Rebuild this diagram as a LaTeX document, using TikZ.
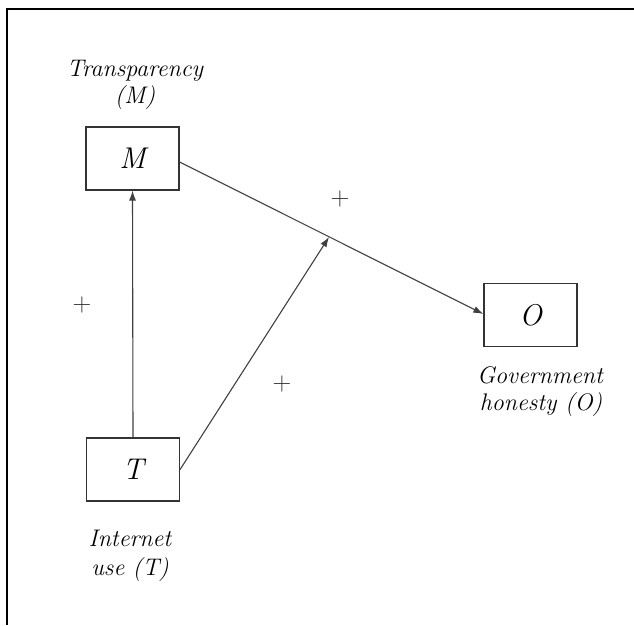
\documentclass[tikz,border=0pt]{standalone}
\usetikzlibrary{arrows.meta}
\begin{document}
\begin{tikzpicture}[x=1pt,y=-1pt,
  var/.style={draw=black!80,line width=1.2pt,minimum width=93pt,minimum height=63pt,inner sep=0pt,font=\fontsize{30}{32}\selectfont\itshape},
  lbl/.style={anchor=base,font=\fontsize{24}{28}\selectfont\itshape,inner sep=0pt},
  sgn/.style={inner sep=0pt,font=\fontsize{26}{28}\selectfont,text=black!80},
  conn/.style={draw=black!75,line width=1.1pt,-{Latex[length=10pt,width=7pt]}}]
\useasboundingbox (0,0) rectangle (634,625);
\draw[line width=2pt] (634,9) -- (7,9) -- (7,625);
\node[var] (M) at (132.5,158.5) {M};
\node[var] (T) at (133,469.5) {T};
\node[var] (O) at (530.5,315) {O};
\coordinate (J) at (329,237);
\draw[conn] (T.north) -- (M.south);
\draw[conn] (M.east |- 0,162) -- (O.west |- 0,314);
\draw[conn] (T.east) -- (J);
\node[lbl] (lM1) at (135,76) {Transparency};
\node[lbl] (lM2) at (135,103) {(M)};
\node[lbl] (lT1) at (130,546) {Internet};
\node[lbl] (lT2) at (130,575) {use (T)};
\node[lbl] (lO1) at (540,383) {Government};
\node[lbl] (lO2) at (541,410) {honesty (O)};
\node[sgn] (p1) at (82,305) {+};
\node[sgn] (p2) at (340,199) {+};
\node[sgn] (p3) at (282,384) {+};
\end{tikzpicture}
\end{document}
